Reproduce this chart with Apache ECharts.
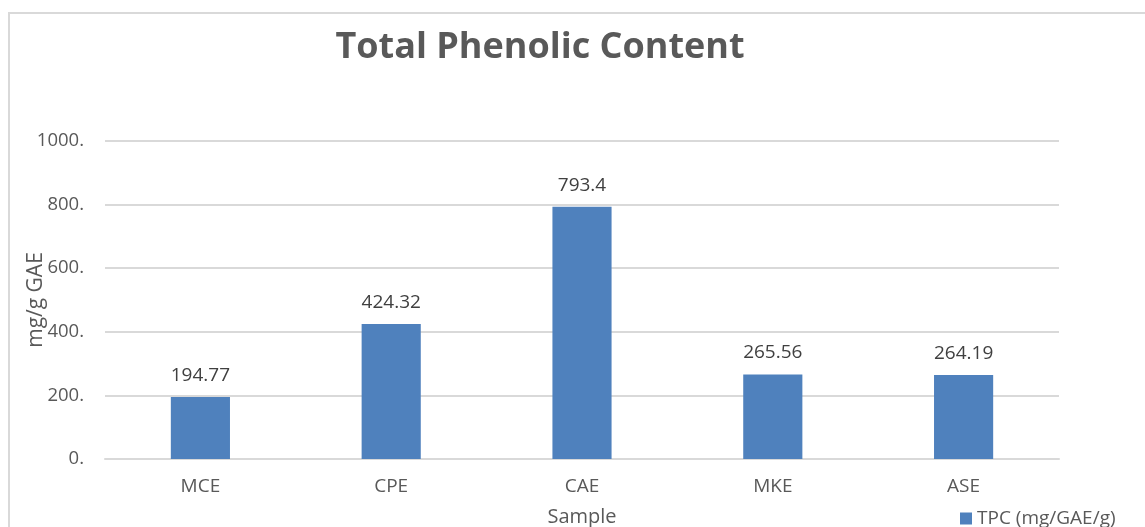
<!DOCTYPE html>
<html>
<head>
<meta charset="utf-8">
<script src="https://cdn.jsdelivr.net/npm/echarts@6/dist/echarts.min.js"></script>
<style>
  html, body { margin: 0; padding: 0; background: #fff; }
  #chart { width: 1145px; height: 527px; }
</style>
</head>
<body>
<div id="chart"></div>
<script>
// Sample names and total phenolic content (mg GAE per g)
const categories = ['MCE', 'CPE', 'CAE', 'MKE', 'ASE'];
const tpcValues = [194.77, 424.32, 793.4, 265.56, 264.19];
const seriesName = 'TPC (mg/GAE/g)';
const yTicks = { min: 0, max: 1000, interval: 200 };

const FONT = '"Open Sans", "Noto Sans", sans-serif';
const chart = echarts.init(document.getElementById('chart'));

chart.setOption({
  animation: false,
  backgroundColor: '#ffffff',
  textStyle: { fontFamily: FONT },
  graphic: [{
    type: 'rect',
    shape: { x: 9, y: 13, width: 1200, height: 600 },
    style: { fill: 'none', stroke: '#d9d9d9', lineWidth: 2 },
    silent: true
  }],
  title: {
    text: 'Total Phenolic Content',
    left: 535,
    top: 25,
    textAlign: 'center',
    textStyle: { fontFamily: FONT, fontSize: 36, fontWeight: 'bold', color: '#595959' }
  },
  legend: {
    data: [seriesName],
    left: 955,
    top: 504,
    itemWidth: 12,
    itemHeight: 12,
    itemGap: 5,
    icon: 'rect',
    textStyle: { fontFamily: FONT, fontSize: 19, color: '#595959' }
  },
  grid: {
    left: 105, right: 86, top: 141, bottom: 68,
    containLabel: false,
    outerBoundsMode: 'none'
  },
  xAxis: {
    type: 'category',
    data: categories,
    name: 'Sample',
    nameLocation: 'middle',
    nameGap: 48,
    nameTextStyle: { fontFamily: FONT, fontSize: 20, color: '#595959' },
    axisLine: { show: true, lineStyle: { color: '#d9d9d9', width: 2 } },
    axisTick: { show: false },
    axisLabel: { fontFamily: FONT, fontSize: 19, color: '#595959', margin: 18 }
  },
  yAxis: {
    type: 'value',
    min: yTicks.min,
    max: yTicks.max,
    interval: yTicks.interval,
    name: 'mg/g GAE',
    nameLocation: 'middle',
    nameGap: 58,
    nameRotate: 90,
    nameMoveOverlap: false,
    nameTextStyle: { fontFamily: FONT, fontSize: 21, color: '#595959' },
    axisLine: { show: false },
    axisTick: { show: false },
    axisLabel: {
      fontFamily: FONT, fontSize: 18.5, color: '#595959', margin: 21,
      formatter: v => v + '.'
    },
    splitLine: { lineStyle: { color: '#d9d9d9', width: 2 } }
  },
  series: [{
    name: seriesName,
    type: 'bar',
    data: tpcValues,
    barWidth: '31%',
    itemStyle: { color: '#4f81bd' },
    label: {
      show: true,
      position: 'top',
      distance: 12,
      fontFamily: FONT,
      fontSize: 19,
      color: '#404040'
    }
  }]
});
</script>
</body>
</html>
